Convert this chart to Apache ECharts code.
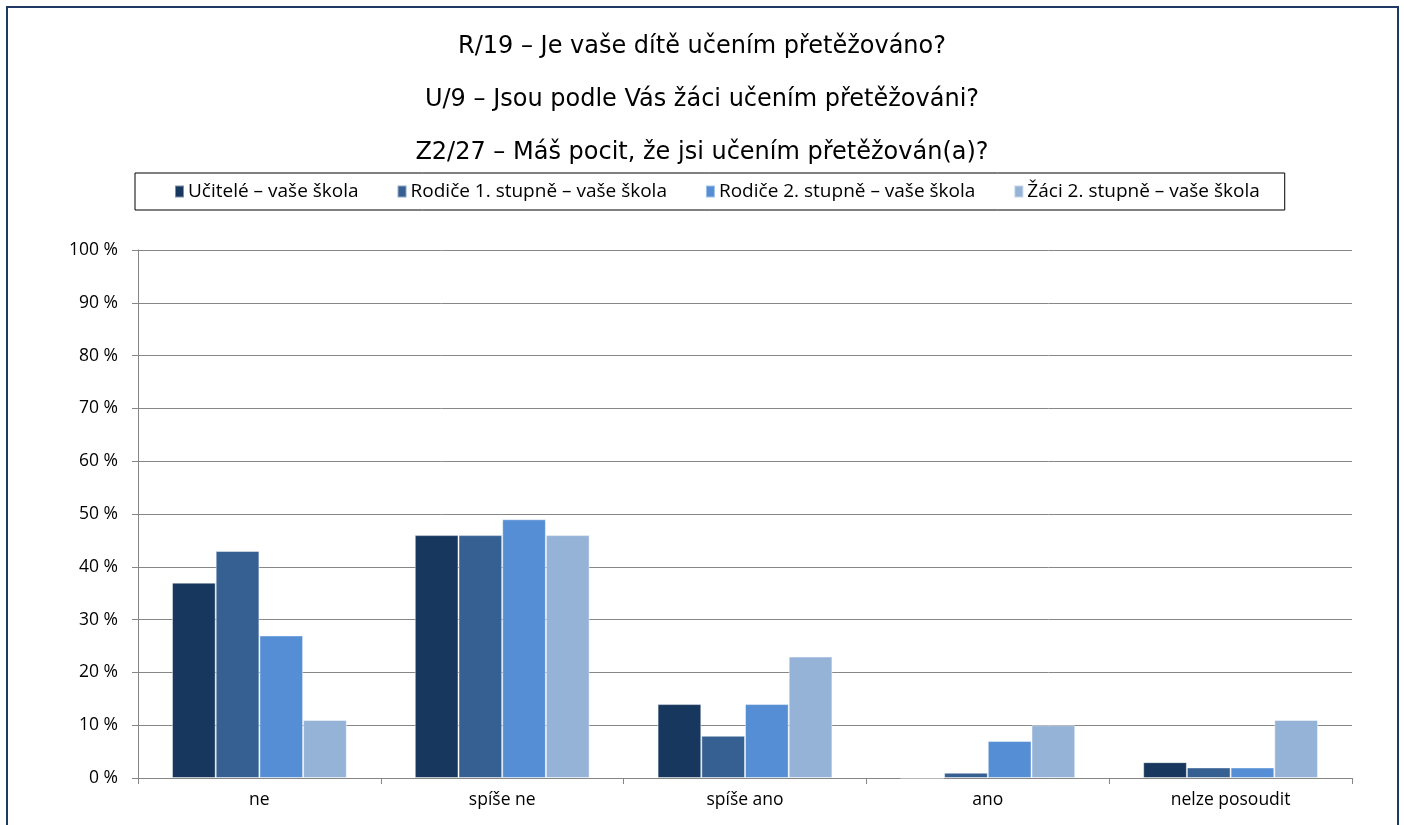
<!DOCTYPE html>
<html>
<head>
<meta charset="utf-8">
<script src="https://cdn.jsdelivr.net/npm/echarts@6/dist/echarts.min.js"></script>
<style>
  html, body { margin: 0; padding: 0; background: #fff; }
  #chart { width: 1404px; height: 825px; }
</style>
</head>
<body>
<div id="chart"></div>
<script>
// answer categories
const categories = ['ne', 'spíše ne', 'spíše ano', 'ano', 'nelze posoudit']

const seriesNames = [
  'Učitelé – vaše škola',
  'Rodiče 1. stupně – vaše škola',
  'Rodiče 2. stupně – vaše škola',
  'Žáci 2. stupně – vaše škola'
]

// percent values per group
const ucitele = [37, 46, 14, 0, 3]
const rodice1 = [43, 46, 8, 1, 2]
const rodice2 = [27, 49, 14, 7, 2]
const zaci2 = [11, 46, 23, 10, 11]

const colors = ['#17375E', '#366092', '#558ED5', '#95B3D7']

const titleLines = [
  'R/19 – Je vaše dítě učením přetěžováno?',
  'U/9 – Jsou podle Vás žáci učením přetěžováni?',
  'Z2/27 – Máš pocit, že jsi učením přetěžován(a)?'
]

const labelFont = '"Open Sans", "Noto Sans", sans-serif'

const chart = echarts.init(document.getElementById('chart'))

const dataSets = [ucitele, rodice1, rodice2, zaci2]

const option = {
  animation: false,
  color: colors,
  graphic: [
    {
      type: 'rect',
      shape: { x: 7, y: 7, width: 1391, height: 840 },
      style: { fill: 'none', stroke: '#1F3864', lineWidth: 2 },
      silent: true
    }
  ],
  title: {
    text: titleLines.join('\n'),
    left: 'center',
    top: 15,
    textStyle: {
      fontFamily: '"DejaVu Sans", sans-serif',
      fontSize: 24,
      fontWeight: 'normal',
      color: '#000',
      lineHeight: 53
    }
  },
  legend: {
    left: 135,
    top: 173,
    padding: [9, 25, 9, 39],
    borderColor: '#000',
    borderWidth: 1,
    itemGap: 38,
    itemWidth: 9,
    itemHeight: 12,
    icon: 'rect',
    textStyle: {
      fontFamily: labelFont,
      fontSize: 19,
      color: '#000',
      padding: [0, 0, 0, -1]
    },
    data: seriesNames
  },
  grid: {
    left: 138,
    right: 52,
    top: 250,
    bottom: 47
  },
  xAxis: {
    type: 'category',
    data: categories,
    axisLine: { lineStyle: { color: '#868686', width: 1 } },
    axisTick: { show: true, length: 6, lineStyle: { color: '#868686' } },
    axisLabel: {
      margin: 13,
      fontFamily: labelFont,
      fontSize: 17.5,
      color: '#000'
    }
  },
  yAxis: {
    type: 'value',
    min: 0,
    max: 100,
    interval: 10,
    axisLine: { show: true, lineStyle: { color: '#868686', width: 1 } },
    axisTick: { show: true, length: 6, lineStyle: { color: '#868686' } },
    axisLabel: {
      margin: 20,
      fontFamily: labelFont,
      fontSize: 17.5,
      color: '#000',
      formatter: (v) => v + ' %'
    },
    splitLine: { lineStyle: { color: '#878787', width: 1 } }
  },
  series: dataSets.map((values, i) => ({
    name: seriesNames[i],
    type: 'bar',
    data: values,
    barGap: '0%',
    barCategoryGap: '28%',
    itemStyle: {
      borderColor: 'rgba(255,255,255,0.45)',
      borderWidth: 1
    }
  }))
}

chart.setOption(option)
window.addEventListener('resize', chart.resize)
</script>
</body>
</html>
